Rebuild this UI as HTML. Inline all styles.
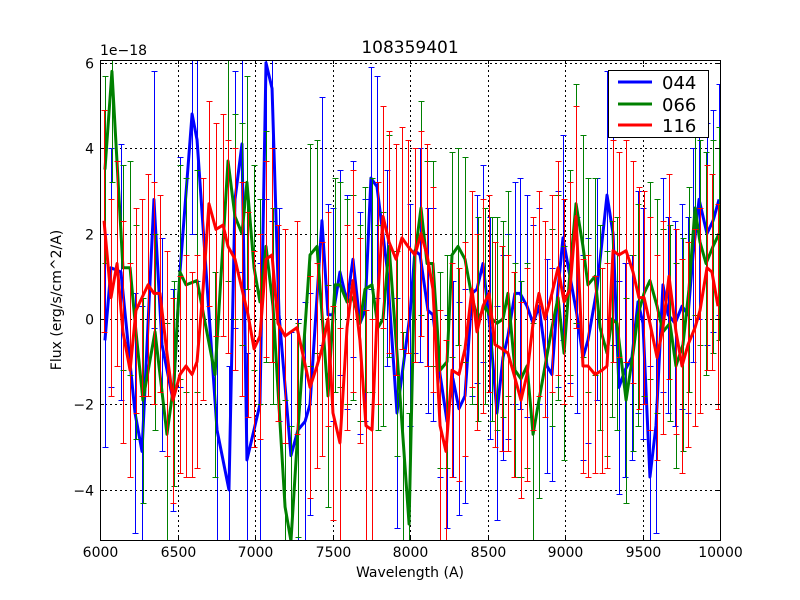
<!DOCTYPE html>
<html><head><meta charset="utf-8"><style>
html,body{margin:0;padding:0;background:#fff;width:800px;height:600px;overflow:hidden;}
svg{display:block;font-family:"DejaVu Sans","Liberation Sans",sans-serif;}
</style></head><body>
<svg id="chart" width="800" height="600" viewBox="0 0 800 600">
<rect x="0" y="0" width="800" height="600" fill="#fff"/>
<defs><clipPath id="pc"><rect x="100" y="60" width="620" height="480"/></clipPath></defs>
<g id="grid"></g>
<g id="series" clip-path="url(#pc)"></g>
<rect x="100.5" y="60.5" width="620" height="480" fill="none" stroke="#000" stroke-width="1"/>
<g id="ticks"></g>
<text x="410" y="53" font-size="17" text-anchor="middle">108359401</text>
<text x="100" y="55" font-size="14">1e−18</text>
<text x="410" y="577" font-size="14" text-anchor="middle">Wavelength (A)</text>
<text x="61" y="300" font-size="14" text-anchor="middle" transform="rotate(-90 61 300)">Flux (erg/s/cm^2/A)</text>
<g>
<rect x="608.5" y="70.5" width="100" height="67" fill="#fff" stroke="#000" stroke-width="1"/>
<g><line x1="618" y1="82" x2="652" y2="82" stroke="#0000ff" stroke-width="3"/><text x="662" y="89" font-size="18">044</text></g>
<g><line x1="618" y1="104" x2="652" y2="104" stroke="#008000" stroke-width="3"/><text x="662" y="111" font-size="18">066</text></g>
<g><line x1="618" y1="125" x2="652" y2="125" stroke="#ff0000" stroke-width="3"/><text x="662" y="132" font-size="18">116</text></g>
</g>
</svg>
<script>
const xTicks=[6000,6500,7000,7500,8000,8500,9000,9500,10000];
const yTicks=[-4,-2,0,2,4,6];
const wl044=[6032,6071,6135,6226,6271,6348,6400,6471,6516,6594,6626,6755,6832,6871,6916,6948,7032,7071,7110,7155,7232,7277,7323,7355,7432,7471,7503,7548,7594,7632,7677,7710,7748,7787,7852,7916,8000,8032,8065,8116,8148,8194,8239,8277,8316,8355,8400,8432,8471,8516,8561,8600,8632,8677,8710,8755,8794,8832,8884,8916,8955,8987,9032,9077,9116,9148,9206,9271,9310,9348,9387,9432,9471,9503,9548,9587,9632,9665,9710,9755,9794,9826,9865,9916,9955,9994];
const flux044=[-0.5,1.2,1.1,-2.2,-3.1,2.8,-0.6,-1.9,1.1,4.8,4.2,-2.6,-4.0,2.8,4.1,-3.3,-2.0,6.0,5.4,0.1,-3.2,-2.6,-2.4,-2.0,2.3,0.1,0.1,1.1,0.4,1.4,-0.1,0.2,3.3,3.1,1.2,-2.2,0.1,1.6,1.5,0.2,0.1,-1.3,-2.4,-1.4,-2.1,-1.8,0.6,0.7,1.3,-0.2,-2.2,-0.9,-0.4,0.6,0.6,0.3,-0.1,0.3,-1.1,-1.3,0.7,1.9,1.0,0.1,-0.9,-0.5,0.7,2.9,2.0,-1.6,-1.2,-0.9,0.4,-0.1,-3.7,-2.5,0.8,0.1,-0.1,0.3,0.1,1.5,2.8,2.0,2.3,2.8];
const err044=[2.5,2.8,3.0,2.8,3.4,3.0,2.5,2.6,2.7,2.8,3.3,2.6,2.9,3.0,3.0,2.5,3.3,3.2,3.1,2.5,2.9,2.6,2.8,2.6,2.9,2.6,2.5,2.4,2.5,2.3,2.6,2.6,2.6,2.6,2.3,2.7,2.6,2.4,2.5,2.4,2.5,2.4,2.5,2.3,2.5,2.5,2.4,2.2,2.3,2.6,2.5,2.4,2.4,2.6,2.7,2.6,2.3,2.3,2.5,2.5,2.3,2.4,2.5,2.3,2.4,2.4,2.6,2.9,2.6,2.5,2.5,2.4,2.6,2.7,2.6,2.5,2.5,2.3,2.4,2.4,2.3,2.5,2.8,2.6,2.6,2.7];
const wl066=[6032,6077,6148,6194,6232,6277,6355,6432,6477,6516,6555,6626,6742,6826,6871,6916,6948,6994,7032,7071,7116,7194,7232,7277,7355,7400,7471,7516,7548,7594,7632,7677,7710,7755,7794,7826,7865,7916,7955,7994,8032,8071,8110,8148,8194,8239,8271,8310,8355,8400,8439,8484,8529,8561,8600,8632,8677,8716,8755,8794,8832,8916,8955,8994,9032,9071,9116,9148,9194,9226,9271,9303,9335,9394,9439,9471,9510,9548,9594,9632,9677,9716,9761,9800,9839,9871,9910,9955,9994];
const flux066=[3.5,5.8,1.2,1.2,-0.3,-1.9,-0.3,-2.7,-1.5,1.1,0.8,0.9,-1.3,3.7,2.4,2.0,3.2,1.2,0.4,1.7,0.3,-4.4,-5.2,-2.6,1.5,1.7,-1.8,0.8,0.8,0.4,0.5,-0.1,0.7,0.8,-0.2,0.0,1.7,-0.8,-2.8,-4.8,1.5,2.6,1.3,1.3,-1.2,-1.0,1.5,1.7,1.4,0.5,0.0,0.3,0.0,-0.1,0.0,0.6,-1.2,-1.4,-1.1,-2.7,-1.9,-0.2,0.5,-0.8,1.1,2.7,1.7,0.8,1.0,-0.2,-0.8,0.0,-0.1,-1.9,-0.8,0.1,0.6,0.9,0.3,-0.3,-0.1,-1.1,-0.6,0.7,2.6,1.8,1.3,1.7,2.0];
const err066=[2.2,2.6,2.4,2.5,2.5,2.4,2.3,2.6,2.4,2.5,2.5,2.6,2.4,2.8,2.4,2.6,2.5,2.4,2.4,2.7,2.3,2.5,2.7,2.5,2.6,2.5,2.6,2.5,2.4,2.4,2.4,2.3,2.4,2.5,2.4,2.5,2.6,2.4,2.5,2.6,2.5,2.5,2.4,2.4,2.3,2.5,2.4,2.3,2.4,2.5,2.4,2.3,2.4,2.5,2.3,2.4,2.5,2.3,2.4,2.6,2.3,2.3,2.4,2.5,2.4,2.8,2.6,2.5,2.3,2.4,2.4,2.3,2.5,2.4,2.3,2.6,2.4,2.3,2.5,2.4,2.3,2.4,2.5,2.4,2.5,2.4,2.6,2.5,2.5];
const wl116=[6026,6071,6110,6148,6194,6232,6271,6310,6348,6387,6432,6471,6516,6555,6594,6626,6665,6703,6748,6794,6826,6871,6916,6955,6994,7032,7071,7110,7148,7194,7271,7355,7400,7432,7471,7503,7548,7594,7632,7677,7716,7755,7794,7826,7865,7910,7948,7987,8032,8071,8110,8148,8194,8232,8271,8316,8355,8400,8432,8471,8510,8548,8594,8632,8671,8716,8755,8794,8832,8871,8916,8955,8994,9032,9071,9116,9148,9194,9239,9271,9310,9348,9394,9439,9477,9510,9548,9594,9632,9671,9716,9755,9794,9839,9871,9916,9948,9987];
const flux116=[2.3,0.5,1.3,-0.3,-1.2,0.2,0.5,0.8,0.6,0.6,-0.8,-1.9,-1.3,-1.1,-1.3,-1.0,0.7,2.7,2.1,2.2,1.7,1.4,0.7,0.1,-0.7,-0.4,1.4,1.5,-0.1,-0.4,-0.2,-1.6,-1.1,-0.7,0.0,-2.2,-2.9,-0.2,0.9,-0.5,-2.5,-2.6,0.6,2.4,1.8,1.4,1.9,1.7,1.5,2.0,1.5,0.7,-2.5,-3.1,-1.2,-1.3,-0.7,0.7,-0.3,0.3,0.6,-0.6,-0.7,-0.8,-1.3,-1.9,-1.3,-0.1,0.6,0.0,0.6,1.2,0.4,0.7,2.4,-1.1,-1.1,-1.3,-1.2,-1.1,1.6,1.5,1.6,1.1,0.5,0.5,-0.1,-0.9,-0.2,1.0,-0.3,-1.1,-0.6,-0.2,0.2,1.2,1.1,0.3];
const err116=[2.6,2.3,2.4,2.6,2.5,2.4,2.3,2.6,2.6,2.3,2.4,2.4,2.3,2.6,2.4,2.5,2.6,2.4,2.5,2.6,2.5,2.6,2.5,2.4,2.3,2.4,2.3,2.5,2.3,2.5,2.5,2.6,2.4,2.5,2.5,2.5,2.7,2.4,2.6,2.4,2.7,2.6,2.6,2.6,2.6,2.7,2.6,2.5,2.5,2.4,2.6,2.4,2.7,2.6,2.5,2.5,2.5,2.3,2.3,2.5,2.3,2.4,2.4,2.3,2.4,2.3,2.5,2.5,2.4,2.3,2.3,2.5,2.4,2.5,2.6,2.5,2.6,2.3,2.4,2.4,2.6,2.4,2.6,2.6,2.6,2.5,2.5,2.4,2.5,2.4,2.4,2.5,2.4,2.3,2.4,2.4,2.3,2.4];
const NS='http://www.w3.org/2000/svg';
function xs(v){return 100+(v-6000)/4000*620;}
function ys(v){return 319-v*42.7;}
function px(v){return Math.round(v)+0.5;}
function mk(tag,attrs,parent){const e=document.createElementNS(NS,tag);for(const k in attrs)e.setAttribute(k,attrs[k]);parent.appendChild(e);return e;}
const grid=document.getElementById('grid'),ticks=document.getElementById('ticks'),ser=document.getElementById('series');
xTicks.forEach(t=>{
  const x=px(xs(t));
  if(t>6000&&t<10000){const g=mk('line',{x1:x,y1:60,x2:x,y2:540,stroke:'#000','stroke-dasharray':'2,3','stroke-width':1,'shape-rendering':'crispEdges'},grid);
  
  }
  mk('line',{x1:x,y1:540,x2:x,y2:536,stroke:'#000'},ticks);
  mk('line',{x1:x,y1:60,x2:x,y2:64,stroke:'#000'},ticks);
  const l=mk('text',{x:x,y:557,'font-size':14,'text-anchor':'middle'},ticks);l.textContent=t;
  
  
});
yTicks.forEach(t=>{
  const y=px(ys(t));
  const g=mk('line',{x1:100,y1:y,x2:720,y2:y,stroke:'#000','stroke-dasharray':'2,3','stroke-width':1,'shape-rendering':'crispEdges'},grid);
  
  
  mk('line',{x1:100,y1:y,x2:104,y2:y,stroke:'#000'},ticks);
  mk('line',{x1:720,y1:y,x2:716,y2:y,stroke:'#000'},ticks);
  const l=mk('text',{x:94,y:y+5,'font-size':14,'text-anchor':'end'},ticks);l.textContent=(t<0?'−'+(-t):t);
  
  
});
function series(wl,fl,er,col,name){
  const g=mk('g',{},ser);
  
  
  wl.forEach((w,i)=>{
    const x=px(xs(w)),e=(er[i]===undefined?2.5:er[i]);
    const y1=px(ys(fl[i]+e)),y2=px(ys(fl[i]-e));
    const b=mk('path',{d:`M${x},${y1}V${y2}M${x-3},${y1}H${x+3}M${x-3},${y2}H${x+3}`,stroke:col,'stroke-width':1,fill:'none','shape-rendering':'crispEdges'},g);
    
    
  });
  const p=mk('polyline',{points:wl.map((w,i)=>xs(w)+','+ys(fl[i])).join(' '),stroke:col,'stroke-width':3,fill:'none','stroke-linejoin':'round'},g);
  
  
}
series(wl044,flux044,err044,'#0000ff','044');
series(wl066,flux066,err066,'#008000','066');
series(wl116,flux116,err116,'#ff0000','116');
</script>
</body></html>
